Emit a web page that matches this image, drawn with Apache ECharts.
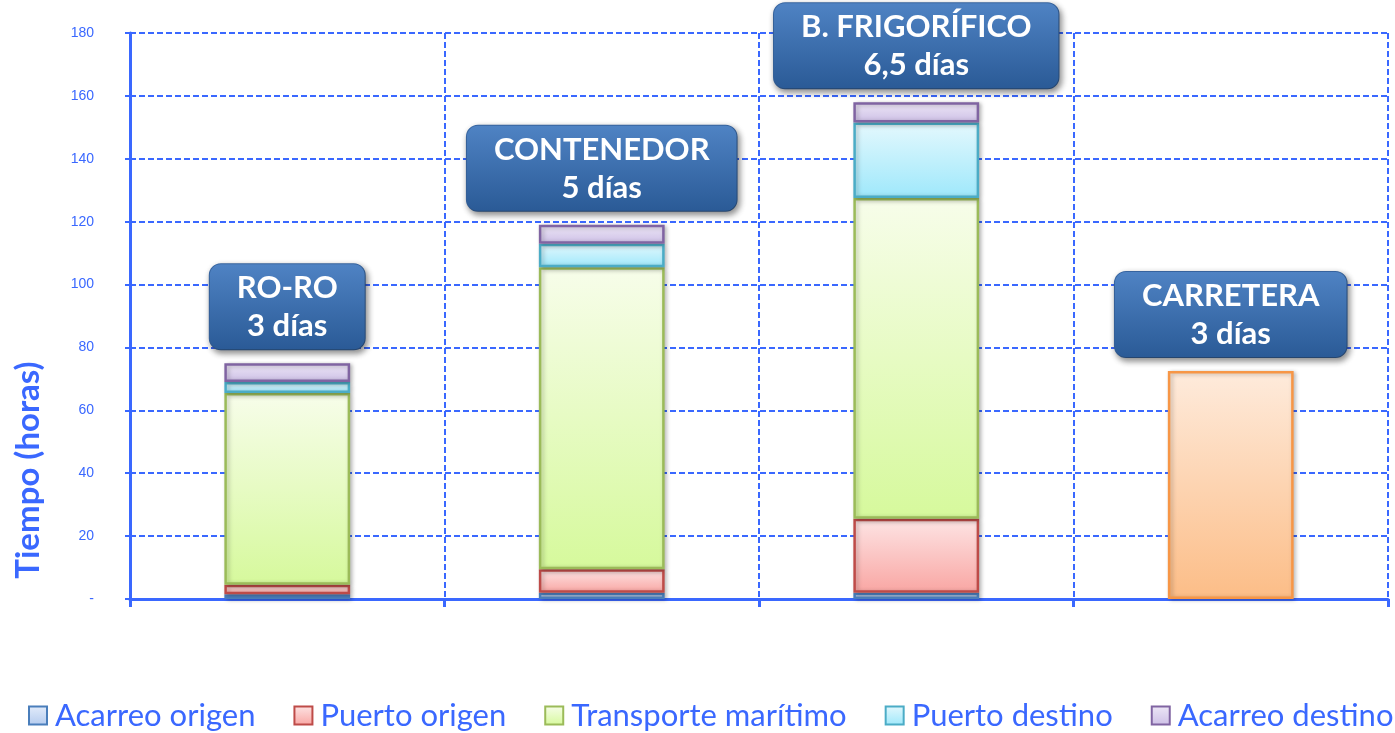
<!DOCTYPE html>
<html>
<head>
<meta charset="utf-8">
<script src="https://cdn.jsdelivr.net/npm/echarts@6/dist/echarts.min.js"></script>
<style>html,body{margin:0;padding:0;background:#fff;}#c{width:1395px;height:733px;}</style>
</head>
<body>
<div id="c"></div>
<script>
const categories = ['RO-RO', 'CONTENEDOR', 'B. FRIGORÍFICO', 'CARRETERA'];
const dayLabels = ['3 días', '5 días', '6,5 días', '3 días'];
const seriesNames = ['Acarreo origen', 'Puerto origen', 'Transporte marítimo', 'Puerto destino', 'Acarreo destino'];
const acarreoOrigen = [1.5, 2, 2, 72.5];
const puertoOrigen = [3, 7.5, 23.5, null];
const transporteMaritimo = [61, 96, 102, null];
const puertoDestino = [3.5, 7.5, 24, null];
const acarreoDestino = [6, 6, 6.5, null];
const yTicks = ['-', '20', '40', '60', '80', '100', '120', '140', '160', '180'];

const values = [acarreoOrigen, puertoOrigen, transporteMaritimo, puertoDestino, acarreoDestino];
const blue = '#3A68FF';
function grad(a, b) {
  return new echarts.graphic.LinearGradient(0, 0, 0, 1, [{offset: 0, color: a}, {offset: 1, color: b}]);
}
const styles = [
  {fill: grad('#e3ecfa', '#b4cbef'), border: '#4a7ebb'},
  {fill: grad('#fde4e4', '#f9a6a3'), border: '#be4b48'},
  {fill: grad('#f7fdea', '#d6f99c'), border: '#9bbb59'},
  {fill: grad('#e4f8fd', '#9ee8fb'), border: '#4bacc6'},
  {fill: grad('#ede7f6', '#cdbfe6'), border: '#8064a2'}
];
const roadStyle = {fill: grad('#feebdc', '#fcbd87'), border: '#f79646'};

const series = seriesNames.map((name, i) => ({
  name: name,
  type: 'bar',
  stack: 'total',
  barWidth: '40%',
  itemStyle: {color: styles[i].fill, borderColor: styles[i].border, borderWidth: 2.5,
    shadowBlur: 4, shadowColor: 'rgba(0,0,0,0.25)', shadowOffsetX: 2, shadowOffsetY: 1},
  data: values[i].map((v, j) => {
    if (v === null) return '-';
    if (i === 0 && j === 3) {
      return {value: v, itemStyle: {color: roadStyle.fill, borderColor: roadStyle.border}};
    }
    return v;
  })
}));

const totals = categories.map((c, j) => values.reduce((s, arr) => s + (arr[j] || 0), 0));
series.push({
  name: 'labels',
  type: 'scatter',
  symbolSize: 2,
  itemStyle: {color: 'rgba(0,0,0,0)', opacity: 1},
  silent: true,
  z: 10,
  data: totals,
  label: {
    show: true,
    opacity: 1,
    position: 'top',
    distance: 13,
    formatter: p => categories[p.dataIndex] + '\n' + dayLabels[p.dataIndex],
    color: '#ffffff',
    fontFamily: 'Lato, "Open Sans", sans-serif',
    fontWeight: 'bold',
    fontSize: 31,
    lineHeight: 38,
    align: 'center',
    backgroundColor: grad('#4f83c4', '#2a5a96'),
    borderColor: '#3a6aa8',
    borderWidth: 1,
    borderRadius: 11,
    padding: [5, 27, 4, 27],
    shadowBlur: 6,
    shadowColor: 'rgba(0,0,0,0.45)',
    shadowOffsetX: 2,
    shadowOffsetY: 3
  }
});

const chart = echarts.init(document.getElementById('c'));
chart.setOption({
  animation: false,
  grid: {left: 130, right: 7, top: 33, bottom: 134, containLabel: false},
  legend: {
    data: seriesNames,
    bottom: 2,
    left: 28,
    width: 1367,
    padding: 0,
    itemWidth: 18,
    itemHeight: 18,
    itemGap: 38,
    icon: 'rect',
    textStyle: {color: blue, fontSize: 31, fontFamily: 'Lato, "Open Sans", sans-serif', padding: [0, 0, 0, 3]}
  },
  xAxis: {
    type: 'category',
    data: categories,
    axisLine: {lineStyle: {color: blue, width: 3}},
    axisTick: {show: true, length: 8, lineStyle: {color: blue, width: 3}},
    axisLabel: {show: false},
    splitLine: {show: true, lineStyle: {color: blue, width: 2, type: [6, 3]}}
  },
  yAxis: {
    type: 'value',
    min: 0, max: 180, interval: 20,
    axisLine: {show: true, lineStyle: {color: blue, width: 3}},
    axisTick: {show: true, length: 5, lineStyle: {color: blue, width: 2}},
    axisLabel: {color: blue, fontSize: 14, fontFamily: '"Liberation Sans", Arial, sans-serif', margin: 36,
      formatter: v => yTicks[Math.round(v / 20)]},
    splitLine: {show: true, lineStyle: {color: blue, width: 2, type: [6, 3]}}
  },
  graphic: [{
    type: 'text',
    x: 28, y: 470,
    rotation: Math.PI / 2,
    style: {text: 'Tiempo (horas)', fill: blue, font: 'bold 33px Lato, "Open Sans", sans-serif',
      align: 'center', verticalAlign: 'middle'}
  }],
  series: series
});
</script>
</body>
</html>
